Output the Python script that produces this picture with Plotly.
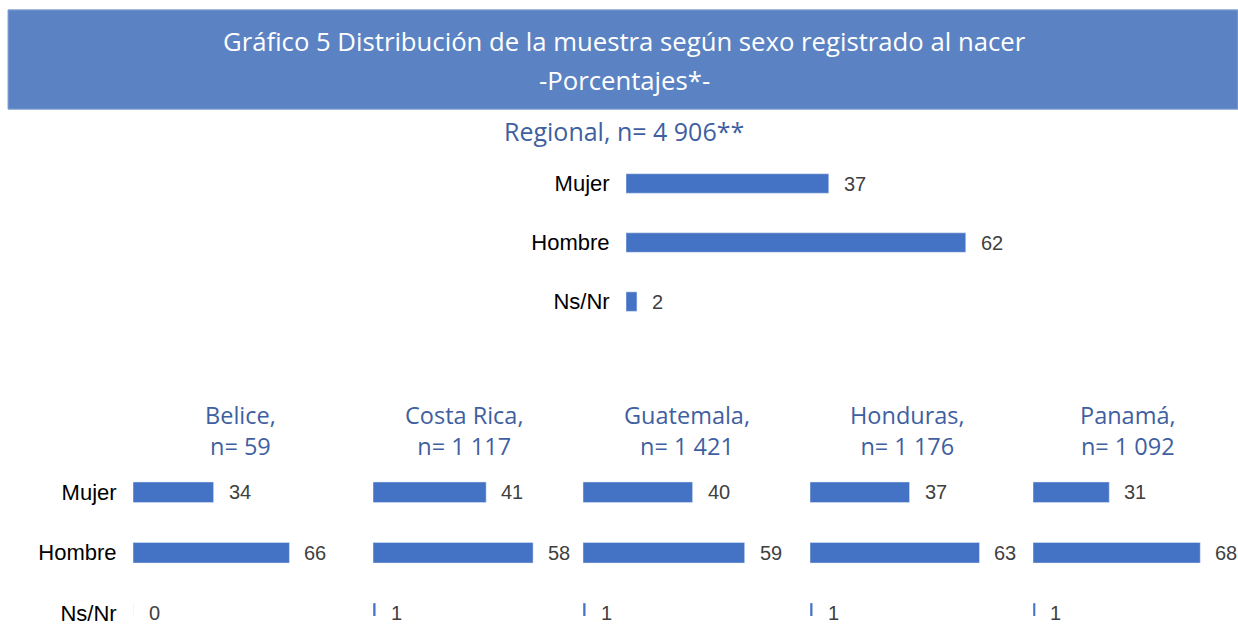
import plotly.graph_objects as go

W, H = 1238, 626

categories = ["Mujer", "Hombre", "Ns/Nr"]

regional_title = "Regional, n= 4 906**"
regional_values = [37, 62, 2]

panel_names = ["Belice,", "Costa Rica,", "Guatemala,", "Honduras,", "Panamá,"]
panel_n = ["n= 59", "n= 1 117", "n= 1 421", "n= 1 176", "n= 1 092"]
belice = [34, 66, 0]
costa_rica = [41, 58, 1]
guatemala = [40, 59, 1]
honduras = [37, 63, 1]
panama = [31, 68, 1]
panel_values = [belice, costa_rica, guatemala, honduras, panama]

title_line1 = "Gráfico 5 Distribución de la muestra según sexo registrado al nacer"
title_line2 = "-Porcentajes*-"

BAR = "#4472c4"
BANNER = "#5b83c3"
TITLE_BLUE = "#3f5fa0"
LABEL_GRAY = "#404040"
TICK_FONT = "Liberation Sans"
TITLE_FONT = "Open Sans"


def px(x):
    return x / W


def py(y):
    return 1 - y / H


fig = go.Figure()
layout = dict(
    width=W, height=H, margin=dict(l=0, r=0, t=0, b=0),
    paper_bgcolor="white", plot_bgcolor="rgba(0,0,0,0)",
    showlegend=False, shapes=[], annotations=[],
)

RANGE = 70
panels = [
    (626, 5.48, 156.5, 336.5, [2.5, -0.5], True, 22, regional_values, 0.33),
]
left_px = [133, 373, 583, 810, 1033]
scales = [2.37, 2.76, 2.74, 2.69, 2.46]
for i, vals in enumerate(panel_values):
    panels.append((left_px[i], scales[i], 469.5, 626, [2.045, -0.5], i == 0, 22, vals, 0.34))

for k, (lx, sc, ytop, ybot, yr, show, tfs, vals, bw) in enumerate(panels):
    n = "" if k == 0 else str(k + 1)
    xa, ya = "x" + n, "y" + n
    fig.add_trace(go.Bar(
        x=vals, y=categories, orientation="h", marker_color=BAR,
        width=bw, xaxis=xa, yaxis=ya, hoverinfo="skip",
    ))
    layout["xaxis" + n] = dict(
        domain=[px(lx), min(1, px(lx + RANGE * sc))], range=[0, RANGE],
        visible=False, anchor=ya, fixedrange=True,
    )
    layout["yaxis" + n] = dict(
        domain=[max(0, py(ybot)), py(ytop)], range=yr, type="category",
        categoryorder="array", categoryarray=categories,
        showgrid=False, zeroline=False, showline=False, fixedrange=True,
        showticklabels=show, ticks="outside" if show else "", ticklen=11,
        tickcolor="rgba(0,0,0,0)",
        tickfont=dict(family=TICK_FONT, size=tfs, color="#000000"),
        anchor=xa,
    )
    for c, v in zip(categories, vals):
        layout["annotations"].append(dict(
            x=v, y=c, xref=xa, yref=ya, text=str(v), showarrow=False,
            xanchor="left", yanchor="middle", xshift=13 if v > 0 else 14,
            font=dict(family=TICK_FONT, size=20, color=LABEL_GRAY),
        ))


def title_ann(x, y, text, size, color):
    return dict(
        x=px(x), y=py(y), xref="paper", yref="paper", text=text,
        xanchor="center", yanchor="middle", showarrow=False,
        font=dict(family=TITLE_FONT, size=size, color=color),
    )


# banner
layout["shapes"].append(dict(
    type="rect", xref="paper", yref="paper",
    x0=px(8), x1=1, y0=py(111), y1=py(10),
    fillcolor=BANNER, line=dict(color="#8aa6d6", width=1), layer="below",
))
layout["annotations"].append(title_ann(624, 42, title_line1, 25.7, "white"))
layout["annotations"].append(title_ann(624, 82, title_line2, 25.7, "white"))
layout["annotations"].append(title_ann(624, 133, regional_title, 25, TITLE_BLUE))
centers = [240, 464, 687, 907, 1128]
for cx, name, nn in zip(centers, panel_names, panel_n):
    layout["annotations"].append(title_ann(cx, 437, name + "<br>" + nn, 23.5, TITLE_BLUE))

fig.update_layout(**layout)
fig.write_html("out.html", config={"displayModeBar": False},
               post_script="document.body.style.margin='0';")
